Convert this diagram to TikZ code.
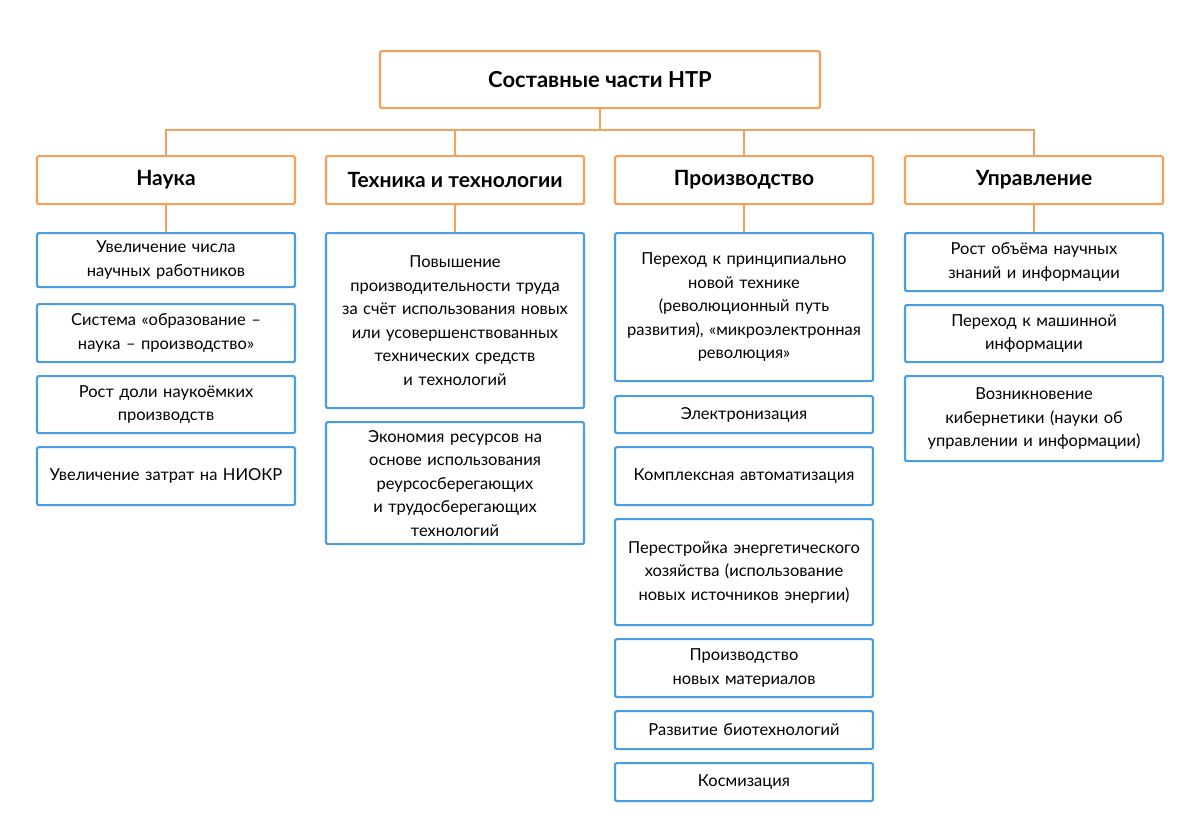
\documentclass[tikz,border=0pt]{standalone}
\usepackage{fontspec}
\setmainfont{Lato}
\begin{document}
\begin{tikzpicture}[x=1pt,y=-1pt,
  org/.style={draw=orangeline,line width=2.2pt,rounded corners=2pt,fill=white,anchor=north,minimum width=258pt,inner sep=0pt},
  hd/.style={org,minimum height=48pt,font=\fontsize{21}{25}\selectfont\bfseries},
  it/.style={draw=blueline,line width=2.2pt,rounded corners=2pt,fill=white,anchor=north,minimum width=258pt,text width=240pt,align=center,inner sep=0pt,font=\fontsize{16.5}{23.5}\selectfont},
  ln/.style={draw=orangeline,line width=2.2pt}]
\definecolor{orangeline}{HTML}{F7A05A}
\definecolor{blueline}{HTML}{4A9DE0}
\path[use as bounding box] (0,0) rectangle (1200,819);
\node[org,minimum width=440pt,minimum height=57pt,font=\fontsize{22}{26}\selectfont\bfseries] (top) at (600,50) {Составные части НТР};
\node[hd] (h1) at (166,155) {Наука};
\node[hd] (h2) at (455,155) {Техника и технологии};
\node[hd] (h3) at (744,155) {Производство};
\node[hd] (h4) at (1034,155) {Управление};
\coordinate (bus) at (600,130);
\draw[ln] (top.south) -- (bus);
\draw[ln] (h1.north) |- (bus) -| (h4.north);
\draw[ln] (h2.north) -- (h2.north |- bus);
\draw[ln] (h3.north) -- (h3.north |- bus);
% Наука
\node[it,minimum height=54pt] (a1) at (166,232) {Увеличение числа научных работников};
\node[it,minimum height=58pt] (a2) at (166,303) {Система «образование –\\наука – производство»};
\node[it,minimum height=57pt] (a3) at (166,375) {Рост доли наукоёмких производств};
\node[it,minimum height=58pt] (a4) at (166,446) {Увеличение затрат на НИОКР};
% Техника
\node[it,minimum height=175pt] (b1) at (455,232) {Повышение производительности труда за счёт использования новых или усовершенствованных технических средств и технологий};
\node[it,minimum height=122pt] (b2) at (455,421) {Экономия ресурсов на основе использования реурсосберегающих и трудосберегающих технологий};
% Производство
\node[it,minimum height=148pt] (c1) at (744,232) {Переход к принципиально новой технике (революционный путь развития), «микроэлектронная революция»};
\node[it,minimum height=37pt] (c2) at (744,395) {Электронизация};
\node[it,minimum height=58pt] (c3) at (744,446) {Комплексная автоматизация};
\node[it,minimum height=106pt] (c4) at (744,518) {Перестройка энергетического хозяйства (использование новых источников энергии)};
\node[it,minimum height=58pt] (c5) at (744,638) {Производство новых материалов};
\node[it,minimum height=38pt] (c6) at (744,710) {Развитие биотехнологий};
\node[it,minimum height=38pt] (c7) at (744,762) {Космизация};
% Управление
\node[it,minimum height=58pt] (d1) at (1034,232) {Рост объёма научных знаний и информации};
\node[it,minimum height=57pt] (d2) at (1034,304) {Переход к машинной информации};
\node[it,minimum height=85pt] (d3) at (1034,375) {Возникновение кибернетики (науки об управлении и информации)};
\foreach \h/\c in {h1/a1,h2/b1,h3/c1,h4/d1} \draw[ln] (\h.south) -- (\c.north);
\end{tikzpicture}
\end{document}
